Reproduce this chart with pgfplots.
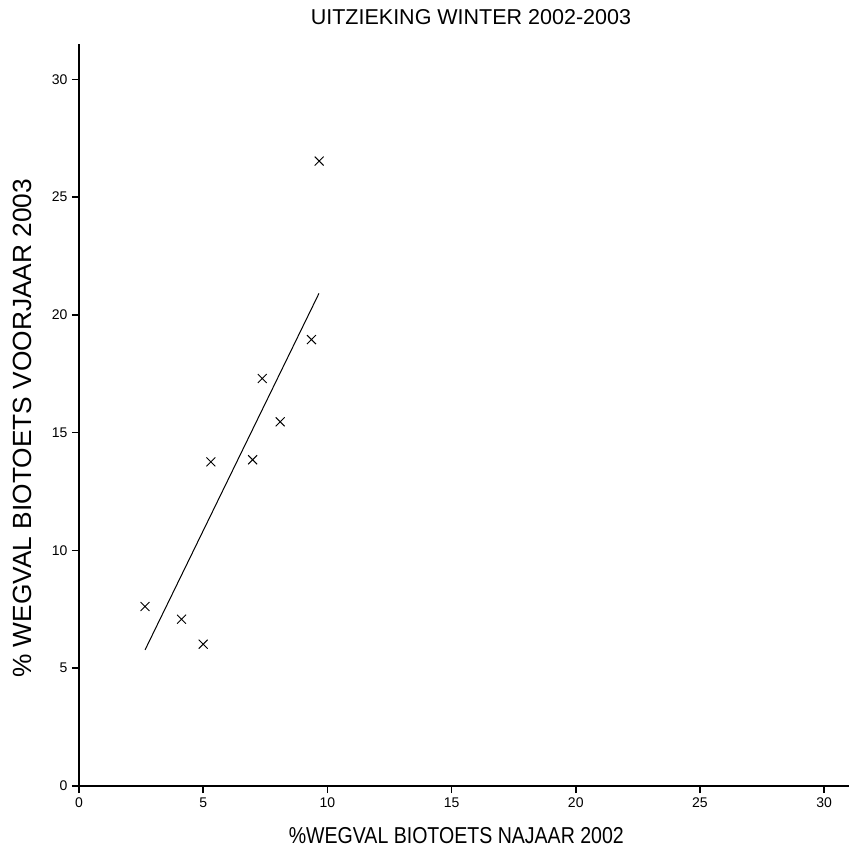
\documentclass[border=0pt]{standalone}
\usepackage{fontspec}
\setmainfont{Liberation Sans}
\usepackage{pgfplots}
\pgfplotsset{compat=1.18}
\begin{document}
\begin{tikzpicture}
\begin{axis}[
  scale only axis,
  width=770pt, height=742pt,
  xmin=0, xmax=31, ymin=0, ymax=31.5,
  axis x line*=bottom, axis y line*=left,
  axis line style={line width=1.6pt, -},
  xtick={0,5,10,15,20,25,30},
  ytick={0,5,10,15,20,25,30},
  tick align=outside,
  major tick length=7pt,
  tick style={line width=1.5pt, black},
  /pgf/number format/assume math mode=true,
  ticklabel style={font=\fontsize{14}{16}\selectfont},
  xticklabel style={yshift=-1pt},
  yticklabel style={xshift=-1pt},
  title={UITZIEKING WINTER 2002-2003},
  title style={font=\fontsize{21.5}{24}\selectfont, at={(axis description cs:0.509,1.0276)}, anchor=center},
  xlabel={\scalebox{0.85}[1]{\%WEGVAL BIOTOETS NAJAAR 2002}},
  xlabel style={font=\fontsize{23}{26}\selectfont, at={(axis description cs:0.490,-0.0674)}, anchor=center},
  ylabel={\% WEGVAL BIOTOETS VOORJAAR 2003},
  ylabel style={font=\fontsize{26.3}{29}\selectfont, at={(axis description cs:-0.074,0.482)}, anchor=center, rotate=0},
  clip=false,
]
\addplot[only marks, mark=x, mark size=6.3pt, mark options={line width=0.9pt, black}] coordinates {
  (2.66,7.62) (4.13,7.08) (5.00,6.02) (5.31,13.76) (6.99,13.85)
  (7.38,17.30) (8.10,15.46) (9.36,18.95) (9.67,26.53)
};
\addplot[black, line width=1pt] coordinates {(2.66,5.78) (9.66,20.91)};
\end{axis}
\path[use as bounding box] (-79pt,-59pt) rectangle (776pt,786pt);
\end{tikzpicture}
\end{document}
